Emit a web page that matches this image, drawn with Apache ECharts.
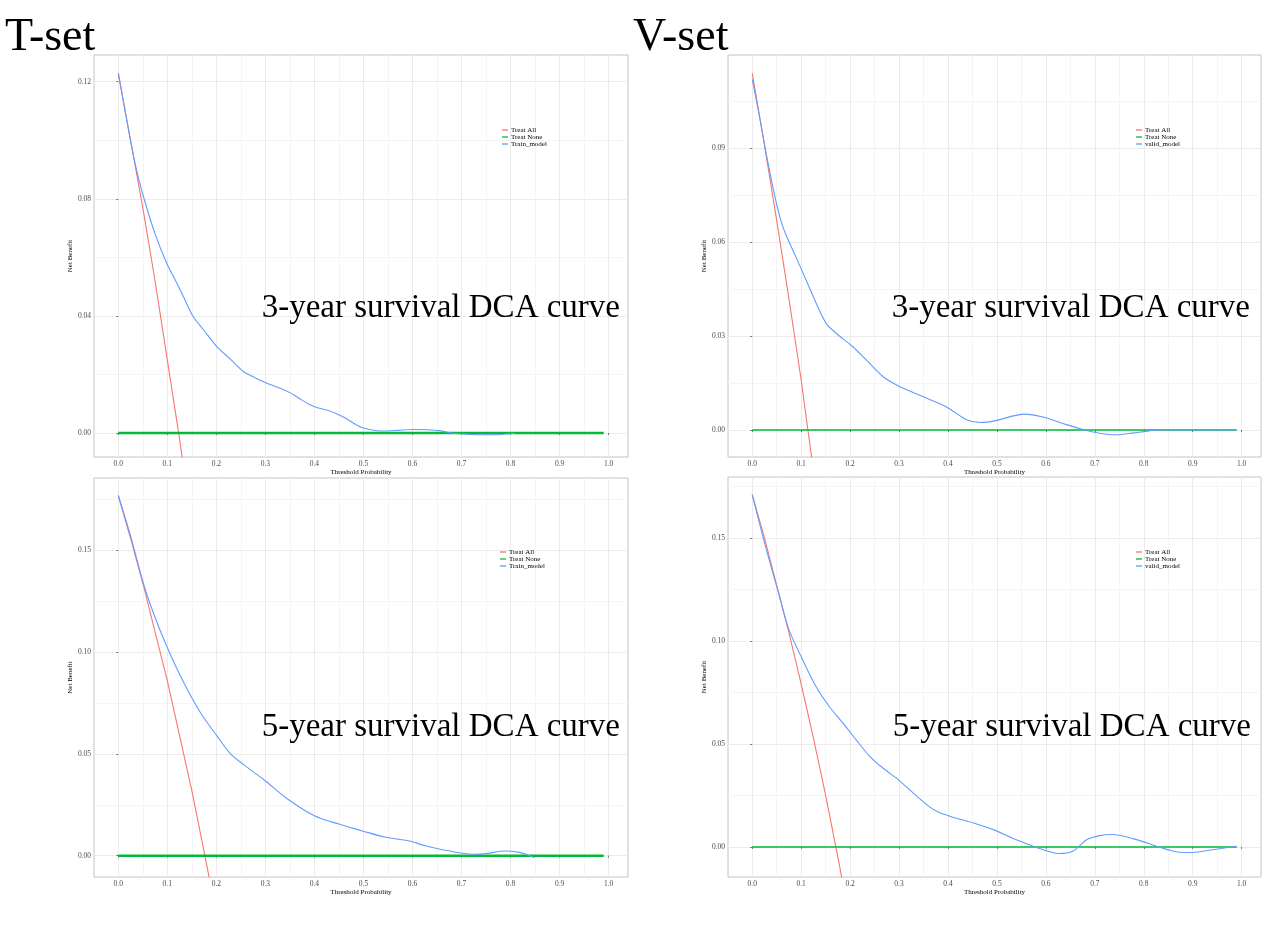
<!DOCTYPE html>
<html><head><meta charset="utf-8">
<script src="https://cdn.jsdelivr.net/npm/echarts@6/dist/echarts.min.js"></script>
<style>html,body{margin:0;padding:0;background:#fff}#c{width:1268px;height:950px}</style>
</head><body><div id="c"></div>
<script>
// ---------- data ----------
const xMajor = [0, 0.1, 0.2, 0.3, 0.4, 0.5, 0.6, 0.7, 0.8, 0.9, 1.0];
const xMinor = [0.05, 0.15, 0.25, 0.35, 0.45, 0.55, 0.65, 0.75, 0.85, 0.95];
const tlYMajor = [0, 0.04, 0.08, 0.12];
const tlYMinor = [0.02, 0.06, 0.10];
const trYMajor = [0, 0.03, 0.06, 0.09];
const trYMinor = [0.015, 0.045, 0.075, 0.105];
const bYMajor = [0, 0.05, 0.10, 0.15];
const bYMinor = [0.025, 0.075, 0.125, 0.175];

const treatNone = [[0, 0], [0.99, 0]];

const tlTreatAll = [[0,0.123],[0.025,0.100],[0.05,0.077],[0.075,0.052],[0.1,0.025],[0.125,-0.002],[0.15,-0.032]];
const trTreatAll = [[0,0.114],[0.025,0.091],[0.05,0.067],[0.075,0.042],[0.1,0.016],[0.125,-0.013],[0.15,-0.042]];
const blTreatAll = [[0,0.177],[0.025,0.156],[0.05,0.134],[0.075,0.110],[0.1,0.086],[0.125,0.059],[0.15,0.032],[0.175,0.002],[0.2,-0.029]];
const brTreatAll = [[0,0.171],[0.025,0.150],[0.05,0.127],[0.075,0.104],[0.1,0.079],[0.125,0.053],[0.15,0.025],[0.175,-0.005],[0.2,-0.036]];

const tlModel = [[0,0.1228],[0.016,0.108],[0.03,0.0955],[0.042,0.0865],[0.0526,0.080],[0.075,0.068],[0.099,0.0579],[0.12,0.051],[0.133,0.0465],[0.153,0.0397],[0.175,0.035],[0.201,0.0295],[0.23,0.025],[0.256,0.0209],[0.28,0.0188],[0.303,0.0170],[0.33,0.0153],[0.351,0.0137],[0.369,0.0118],[0.39,0.0097],[0.406,0.0086],[0.427,0.0078],[0.445,0.0066],[0.464,0.0050],[0.48,0.0033],[0.50,0.0017],[0.537,0.0007],[0.57,0.0009],[0.60,0.0012],[0.63,0.0011],[0.655,0.0008],[0.684,-0.0001],[0.71,-0.0004],[0.743,-0.0006],[0.78,-0.0005],[0.809,-0.0001]];
const trModel = [[0,0.112],[0.015,0.100],[0.031,0.0863],[0.051,0.0714],[0.065,0.0639],[0.089,0.0554],[0.116,0.0458],[0.135,0.039],[0.151,0.0341],[0.171,0.0310],[0.205,0.0267],[0.233,0.0224],[0.267,0.0171],[0.301,0.0139],[0.349,0.0107],[0.397,0.0074],[0.438,0.0033],[0.466,0.0024],[0.50,0.0031],[0.527,0.0043],[0.556,0.0051],[0.596,0.0041],[0.633,0.0022],[0.677,0.0001],[0.71,-0.0010],[0.743,-0.0015],[0.78,-0.0009],[0.80,-0.0005],[0.83,0],[0.9,0],[0.99,0]];
const blModel = [[0,0.177],[0.024,0.158],[0.051,0.134],[0.072,0.119],[0.099,0.1028],[0.134,0.0848],[0.168,0.0701],[0.202,0.0586],[0.229,0.0500],[0.257,0.0445],[0.297,0.0373],[0.346,0.0277],[0.40,0.0196],[0.45,0.0155],[0.501,0.0119],[0.546,0.0090],[0.59,0.0074],[0.626,0.0049],[0.671,0.0025],[0.722,0.0007],[0.751,0.0010],[0.788,0.0023],[0.818,0.0016],[0.849,-0.0010]];
const brModel = [[0,0.171],[0.027,0.146],[0.055,0.1222],[0.075,0.1055],[0.103,0.0909],[0.130,0.078],[0.157,0.0683],[0.185,0.0602],[0.212,0.0521],[0.240,0.0440],[0.267,0.0383],[0.298,0.0327],[0.336,0.0247],[0.361,0.0197],[0.38,0.0169],[0.405,0.0148],[0.457,0.0113],[0.493,0.0084],[0.53,0.0044],[0.574,0.0003],[0.60,-0.0018],[0.626,-0.0032],[0.655,-0.0021],[0.684,0.0036],[0.71,0.0055],[0.736,0.0060],[0.78,0.0039],[0.831,0],[0.855,-0.0017],[0.875,-0.0026],[0.90,-0.0027],[0.934,-0.0016],[0.989,0.0003]];

const seriesNames = ['Treat All', 'Treat None'];
const trainName = 'Train_model';
const validName = 'valid_model';
const setTitles = ['T-set', 'V-set'];
const panelTitles = ['3-year survival DCA curve', '5-year survival DCA curve'];
const xName = 'Threshold Probability';
const yName = 'Net Benefit';

// ---------- layout ----------
const FONT = 'Liberation Serif';
const RED = '#F8766D', GREEN = '#00BA38', BLUE = '#619CFF';
const panels = [
  {left:94, top:55, width:534, height:402, ymin:-0.0082, ymax:0.1291, yMajor:tlYMajor, yMinor:tlYMinor, all:tlTreatAll, model:tlModel, modelName:trainName, noneW:2.5, lgLeft:502, lgTop:126.5, title:panelTitles[0], tx:620, ty:308},
  {left:728, top:55, width:533, height:402, ymin:-0.0086, ymax:0.1198, yMajor:trYMajor, yMinor:trYMinor, all:trTreatAll, model:trModel, modelName:validName, noneW:1.5, lgLeft:1136, lgTop:126.5, title:panelTitles[0], tx:1250, ty:308},
  {left:94, top:478, width:534, height:399, ymin:-0.0105, ymax:0.1856, yMajor:bYMajor, yMinor:bYMinor, all:blTreatAll, model:blModel, modelName:trainName, noneW:2.5, lgLeft:500, lgTop:548.5, title:panelTitles[1], tx:620, ty:727},
  {left:728, top:477, width:533, height:400, ymin:-0.0146, ymax:0.1796, yMajor:bYMajor, yMinor:bYMinor, all:brTreatAll, model:brModel, modelName:validName, noneW:1.5, lgLeft:1136, lgTop:548.5, title:panelTitles[1], tx:1251, ty:727}
];

const grid = [], xAxis = [], yAxis = [], series = [], legend = [], graphic = [];
const XMIN = -0.0495, XMAX = 1.0395;
panels.forEach((p, i) => {
  grid.push({left:p.left, top:p.top, width:p.width, height:p.height, show:true, borderColor:'#c4c4c4', borderWidth:1, backgroundColor:'#fff', containLabel:false});
  xAxis.push({type:'value', gridIndex:i, min:XMIN, max:XMAX, position:'bottom',
    name:xName, nameLocation:'middle', nameGap:9,
    nameTextStyle:{fontFamily:FONT, fontSize:7, color:'#000'},
    axisLine:{show:false},
    axisTick:{show:true, length:2, customValues:xMajor, lineStyle:{color:'#555', width:0.8}},
    axisLabel:{customValues:xMajor, margin:3, fontFamily:FONT, fontSize:7.5, color:'#4d4d4d', formatter:v=>v.toFixed(1)},
    splitLine:{show:true, lineStyle:{color:'#ebebeb', width:1}}});
  xAxis.push({type:'value', gridIndex:i, min:XMIN, max:XMAX, position:'top',
    axisLine:{show:false}, axisLabel:{show:false}, axisTick:{show:false, customValues:xMinor},
    splitLine:{show:true, lineStyle:{color:'#f5f5f5', width:1}}});
  yAxis.push({type:'value', gridIndex:i, min:p.ymin, max:p.ymax, position:'left',
    name:yName, nameLocation:'middle', nameGap:15,
    nameTextStyle:{fontFamily:FONT, fontSize:7, color:'#000'},
    axisLine:{show:false},
    axisTick:{show:true, length:2, customValues:p.yMajor, lineStyle:{color:'#555', width:0.8}},
    axisLabel:{customValues:p.yMajor, margin:3, fontFamily:FONT, fontSize:7.5, color:'#4d4d4d', formatter:v=>v.toFixed(2)},
    splitLine:{show:true, lineStyle:{color:'#ebebeb', width:1}}});
  yAxis.push({type:'value', gridIndex:i, min:p.ymin, max:p.ymax, position:'right',
    axisLine:{show:false}, axisLabel:{show:false}, axisTick:{show:false, customValues:p.yMinor},
    splitLine:{show:true, lineStyle:{color:'#f5f5f5', width:1}}});
  const xi = 2*i, yi = 2*i;
  series.push({type:'line', name:seriesNames[0], xAxisIndex:xi, yAxisIndex:yi, data:p.all, symbol:'none', smooth:false, clip:true, lineStyle:{color:RED, width:1.1}, itemStyle:{color:RED}, silent:true, z:3});
  series.push({type:'line', name:seriesNames[1], xAxisIndex:xi, yAxisIndex:yi, data:treatNone, symbol:'none', clip:true, lineStyle:{color:GREEN, width:p.noneW}, itemStyle:{color:GREEN}, silent:true, z:4});
  series.push({type:'line', name:p.modelName, xAxisIndex:xi, yAxisIndex:yi, data:p.model, symbol:'none', smooth:0.3, clip:true, lineStyle:{color:BLUE, width:1.1}, itemStyle:{color:BLUE}, silent:true, z:5});
  legend.push({data:[seriesNames[0], seriesNames[1], p.modelName], orient:'vertical', left:p.lgLeft, top:p.lgTop,
    icon:'rect', itemWidth:6, itemHeight:1.3, itemGap:0, padding:0, selectedMode:false,
    textStyle:{fontFamily:FONT, fontSize:7, color:'#000', padding:[0,0,0,-2], lineHeight:7}});
  graphic.push({type:'text', x:p.tx, y:p.ty, style:{text:p.title, fontFamily:FONT, fontSize:33, fill:'#000', textAlign:'right', textVerticalAlign:'middle'}, z:10});
});
graphic.push({type:'text', x:5, y:38, style:{text:setTitles[0], fontFamily:FONT, fontSize:46, fill:'#000', textAlign:'left', textVerticalAlign:'middle'}, z:10});
graphic.push({type:'text', x:633, y:38, style:{text:setTitles[1], fontFamily:FONT, fontSize:46, fill:'#000', textAlign:'left', textVerticalAlign:'middle'}, z:10});

const chart = echarts.init(document.getElementById('c'), null, {renderer:'canvas'});
chart.setOption({backgroundColor:'#fff', animation:false, grid, xAxis, yAxis, series, legend, graphic});
</script></body></html>
